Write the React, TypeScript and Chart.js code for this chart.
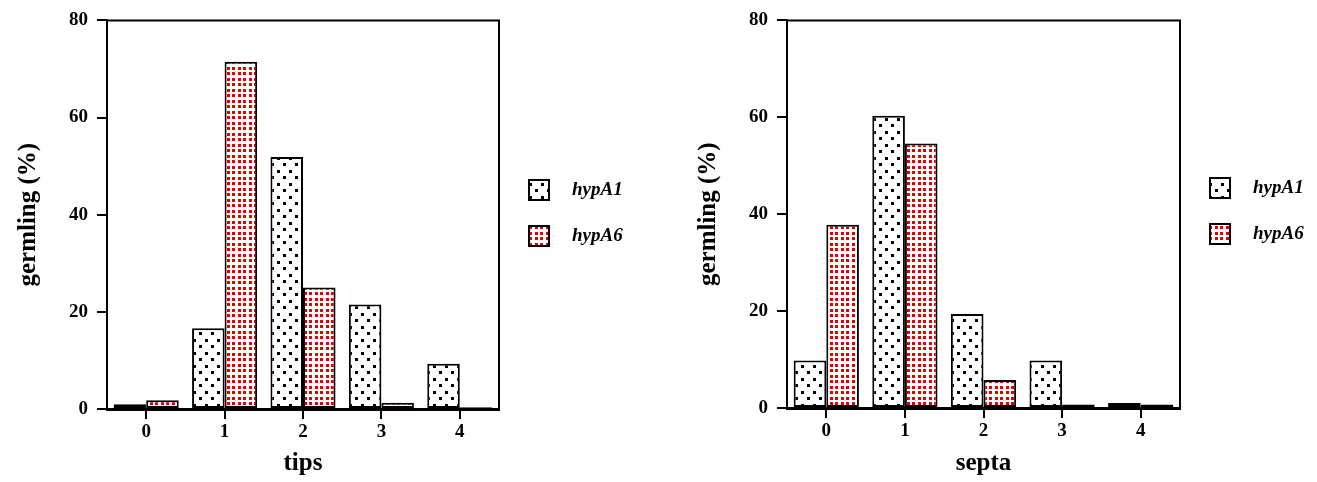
import React, { useEffect, useRef } from 'react';
import { Chart, registerables } from 'chart.js';

Chart.register(...registerables);

const categories = ['0', '1', '2', '3', '4'];
const seriesNames = ['hypA1', 'hypA6'];
const tipsHypA1 = [1.0, 16.6, 51.9, 21.5, 9.3];
const tipsHypA6 = [1.8, 71.5, 25.0, 1.3, 0.35];
const septaHypA1 = [9.8, 60.3, 19.4, 9.8, 1.05];
const septaHypA6 = [37.8, 54.6, 5.8, 0.7, 0.7];
const yTickValues = [0, 20, 40, 60, 80];
const yTitle = 'germling (%)';
const xTitles = ['tips', 'septa'];

const FONT = "'Liberation Serif', 'Times New Roman', serif";
const RED = 'rgb(228,0,0)';

function makePattern(kind: 'black' | 'red'): CanvasPattern | string {
  const c = document.createElement('canvas');
  const ctx = c.getContext('2d');
  if (!ctx) return '#fff';
  if (kind === 'black') {
    c.width = 12;
    c.height = 13;
    ctx.fillStyle = '#fff';
    ctx.fillRect(0, 0, 12, 13);
    ctx.fillStyle = '#000';
    ctx.fillRect(1, 1, 3, 3);
    ctx.fillRect(7, 7, 3, 3);
  } else {
    c.width = 11;
    c.height = 11;
    ctx.fillStyle = '#fff';
    ctx.fillRect(0, 0, 11, 11);
    ctx.fillStyle = RED;
    ctx.fillRect(1, 1, 3, 3);
    ctx.fillRect(7, 1, 3, 3);
    ctx.fillRect(1, 6, 3, 3);
    ctx.fillRect(7, 6, 3, 3);
  }
  const p = ctx.createPattern(c, 'repeat');
  return p || '#fff';
}

type Area = { top: number; xHeight: number; padRight: number; legY: number[] };

function buildChart(canvas: HTMLCanvasElement, a: number[], b: number[], xTitle: string, area: Area) {
  const patA = makePattern('black');
  const patB = makePattern('red');
  const pats = [patA, patB];

  const framePlugin = {
    id: 'frame',
    afterDatasetsDraw(chart: any) {
      const { ctx, chartArea } = chart;
      ctx.save();
      ctx.strokeStyle = '#000';
      ctx.lineWidth = 2;
      ctx.beginPath();
      ctx.moveTo(chartArea.left, chartArea.top);
      ctx.lineTo(chartArea.right, chartArea.top);
      ctx.lineTo(chartArea.right, chartArea.bottom);
      ctx.stroke();
      ctx.restore();
    },
  };

  const legendPlugin = {
    id: 'customLegend',
    afterDraw(chart: any) {
      const { ctx, chartArea } = chart;
      ctx.save();
      const bx = chartArea.right + 30;
      chart.data.datasets.forEach((ds: any, i: number) => {
        const cy = area.legY[i];
        ctx.fillStyle = pats[i];
        ctx.fillRect(bx, cy - 10, 20, 20);
        ctx.strokeStyle = '#000';
        ctx.lineWidth = 2;
        ctx.strokeRect(bx, cy - 10, 20, 20);
        ctx.fillStyle = '#000';
        ctx.font = `italic bold 19px ${FONT}`;
        ctx.textBaseline = 'middle';
        ctx.textAlign = 'left';
        ctx.fillText(ds.label, bx + 43, cy);
      });
      ctx.restore();
    },
  };

  const tickFont = { family: FONT, size: 19, weight: 'bold' as const };
  const titleFont = { family: FONT, size: 25, weight: 'bold' as const };

  const common = {
    borderColor: '#000',
    borderWidth: 2,
    borderSkipped: false,
    categoryPercentage: 0.83,
    barPercentage: 1,
  };

  return new Chart(canvas, {
    type: 'bar',
    data: {
      labels: categories,
      datasets: [
        { label: seriesNames[0], data: a, backgroundColor: patA as any, ...common },
        { label: seriesNames[1], data: b, backgroundColor: patB as any, ...common },
      ],
    },
    options: {
      responsive: false,
      maintainAspectRatio: false,
      animation: false,
      devicePixelRatio: 1,
      layout: { padding: { left: 0, top: area.top, right: area.padRight, bottom: 0 } },
      plugins: {
        legend: { display: false },
        tooltip: { enabled: false },
      },
      scales: {
        x: {
          type: 'category',
          offset: true,
          grid: { offset: false, drawOnChartArea: false, drawTicks: true, tickLength: 10, lineWidth: 2, color: '#000' },
          border: { display: true, width: 3, color: '#000' },
          ticks: { font: tickFont, color: '#000', padding: 2, maxRotation: 0 },
          title: { display: true, text: xTitle, font: titleFont, color: '#000', padding: { top: 0, bottom: 3 } },
          afterFit: (s: any) => {
            s.height = area.xHeight;
          },
        },
        y: {
          min: 0,
          max: 80,
          afterBuildTicks: (s: any) => {
            s.ticks = yTickValues.map((v) => ({ value: v }));
          },
          grid: { drawOnChartArea: false, drawTicks: true, tickLength: 10, lineWidth: 2, color: '#000' },
          border: { display: true, width: 2, color: '#000' },
          ticks: { font: tickFont, color: '#000', padding: 9 },
          title: { display: true, text: yTitle, font: titleFont, color: '#000', padding: { top: 14, bottom: 0 } },
          afterFit: (s: any) => {
            s.width = 107;
          },
        },
      },
    } as any,
    plugins: [framePlugin, legendPlugin],
  });
}

export default function App() {
  const leftRef = useRef<HTMLCanvasElement>(null);
  const rightRef = useRef<HTMLCanvasElement>(null);

  useEffect(() => {
    const charts: Chart[] = [];
    if (leftRef.current) {
      charts.push(buildChart(leftRef.current, tipsHypA1, tipsHypA6, xTitles[0], { top: 19, xHeight: 73, padRight: 181, legY: [190, 236] }));
    }
    if (rightRef.current) {
      charts.push(buildChart(rightRef.current, septaHypA1, septaHypA6, xTitles[1], { top: 17, xHeight: 74, padRight: 137, legY: [188, 234] }));
    }
    return () => charts.forEach((c) => c.destroy());
  }, []);

  return (
    <div style={{ position: 'absolute', left: 0, top: 0, width: 1317, height: 482, background: '#fff' }}>
      <canvas ref={leftRef} width={680} height={482} style={{ position: 'absolute', left: 0, top: 0, width: 680, height: 482 }} />
      <canvas ref={rightRef} width={637} height={482} style={{ position: 'absolute', left: 680, top: 0, width: 637, height: 482 }} />
    </div>
  );
}
